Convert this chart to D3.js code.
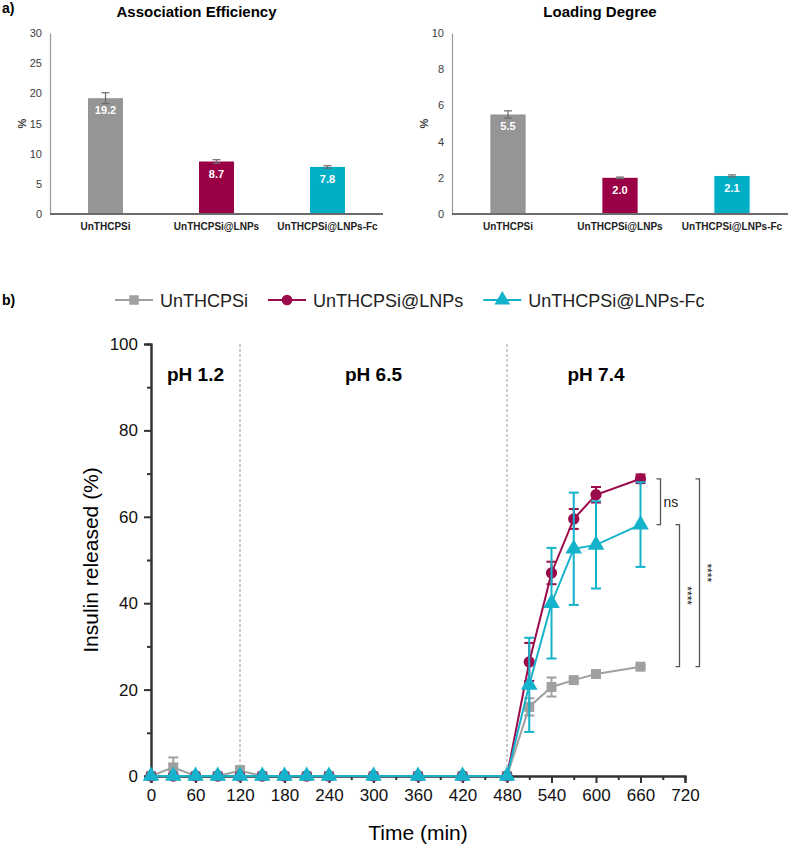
<!DOCTYPE html>
<html>
<head>
<meta charset="utf-8">
<script src="https://cdn.jsdelivr.net/npm/d3@7"></script>
<style>
  body { margin: 0; background: #fff; }
  svg { font-family: Arial, 'Liberation Sans', sans-serif; display: block; }
</style>
</head>
<body>
<div id="app"></div>
<script>
const width = 789
const height = 845

// ---- panel a) data
const categories = ['UnTHCPSi', 'UnTHCPSi@LNPs', 'UnTHCPSi@LNPs-Fc']
const colors = ['#959595', '#990046', '#00afc6']
const assocEff = [19.2, 8.7, 7.8]
const assocErr = [0.9, 0.3, 0.2]
const loadDeg = [5.5, 2.0, 2.1]
const loadErr = [0.2, 0.04, 0.06]

// ---- panel b) data (insulin released, %)
const times  = [0, 30, 60, 90, 120, 150, 180, 210, 240, 300, 360, 420, 480, 510, 540, 570, 600, 660]
const relSi  = [0, 2.0, 0, 0, 1.2, 0, 0, 0, 0, 0, 0, 0, 0, 16.0, 20.6, 22.2, 23.6, 25.3]
const errSi  = [0, 2.3, 0, 0, 1.1, 0, 0, 0, 0, 0, 0, 0, 0, 2.0, 2.2, 0.5, 0.5, 0.4]
const relLNP = [0, 0, 0, 0, 0, 0, 0, 0, 0, 0, 0, 0, 0, 26.4, 47.0, 59.5, 65.1, 68.8]
const errLNP = [0, 0, 0, 0, 0, 0, 0, 0, 0, 0, 0, 0, 0, 4.4, 2.6, 2.3, 1.8, 1.0]
const relFc  = [0, 0, 0, 0, 0, 0, 0, 0, 0, 0, 0, 0, 0, 21.1, 40.0, 52.6, 53.5, 58.2]
const errFc  = [0, 0, 0, 0, 0, 0, 0, 0, 0, 0, 0, 0, 0, 10.9, 12.8, 13.0, 10.1, 9.8]
const phaseEdges = [0, 120, 480, 720]
const phaseLabels = ['pH 1.2', 'pH 6.5', 'pH 7.4']
const xTicks = [0, 60, 120, 180, 240, 300, 360, 420, 480, 540, 600, 660, 720]
const yTicks = [0, 20, 40, 60, 80, 100]

const svg = d3.select('#app')
  .append('svg')
  .attr('width', width)
  .attr('height', height)

// panel letters
svg.append('text').attr('x', 2).attr('y', 13)
  .style('font-size', '14px').style('font-weight', 'bold').text('a)')
svg.append('text').attr('x', 2).attr('y', 305)
  .style('font-size', '14px').style('font-weight', 'bold').text('b)')

// ---------- bar charts ----------
const barChart = (left, right, title, values, errs, maxY, step) => {
  const g = svg.append('g')
  const x = d3.scaleBand()
    .domain(categories)
    .range([left, right])
    .paddingInner(0.685)
    .paddingOuter(0.3425)
  const y = d3.scaleLinear().domain([0, maxY]).range([214, 33])

  g.append('text')
    .attr('x', (left + right) / 2 - 20)
    .attr('y', 17)
    .attr('text-anchor', 'middle')
    .style('font-size', '15px').style('font-weight', 'bold')
    .text(title)

  const axisY = d3.axisLeft(y).tickValues(d3.range(0, maxY + 0.01, step)).tickSize(0).tickPadding(8)
  g.append('g')
    .attr('transform', `translate(${left}, 0)`)
    .call(axisY)
    .call(a => a.select('.domain').attr('stroke', '#9a9a9a').attr('stroke-width', 1.2))
    .call(a => a.selectAll('text').style('font-size', '11px').attr('fill', '#404040').style('font-family', 'Arial, Liberation Sans, sans-serif'))

  g.append('text')
    .attr('transform', `translate(${left - 24}, ${(33 + 214) / 2}) rotate(-90)`)
    .attr('text-anchor', 'middle')
    .style('font-size', '11px').style('font-weight', 'bold').attr('fill', '#333')
    .text('%')

  g.selectAll('rect')
    .data(values)
    .enter()
    .append('rect')
    .attr('x', (d, i) => x(categories[i]))
    .attr('y', d => y(d))
    .attr('width', x.bandwidth())
    .attr('height', d => y(0) - y(d))
    .attr('fill', (d, i) => colors[i])

  // error bars
  values.forEach((v, i) => {
    const cx = x(categories[i]) + x.bandwidth() / 2
    g.append('line').attr('x1', cx).attr('x2', cx)
      .attr('y1', y(v - errs[i])).attr('y2', y(v + errs[i]))
      .attr('stroke', '#6b6b6b').attr('stroke-width', 1.2)
    ;[v - errs[i], v + errs[i]].forEach(e => {
      g.append('line').attr('x1', cx - 4).attr('x2', cx + 4)
        .attr('y1', y(e)).attr('y2', y(e))
        .attr('stroke', '#6b6b6b').attr('stroke-width', 1.2)
    })
  })

  g.selectAll('.val')
    .data(values)
    .enter()
    .append('text')
    .attr('class', 'val')
    .attr('x', (d, i) => x(categories[i]) + x.bandwidth() / 2)
    .attr('y', d => y(d) + 16)
    .attr('text-anchor', 'middle')
    .attr('fill', '#fff')
    .style('font-size', '11px').style('font-weight', 'bold')
    .text(d => d.toFixed(1))

  g.append('line')
    .attr('x1', left).attr('x2', right)
    .attr('y1', y(0)).attr('y2', y(0))
    .attr('stroke', '#6b6b6b').attr('stroke-width', 2)

  g.selectAll('.cat')
    .data(categories)
    .enter()
    .append('text')
    .attr('class', 'cat')
    .attr('x', d => x(d) + x.bandwidth() / 2)
    .attr('y', 230)
    .attr('text-anchor', 'middle')
    .style('font-size', '10px').style('font-weight', 'bold').attr('fill', '#222')
    .text(d => d)
}

barChart(50, 383, 'Association Efficiency', assocEff, assocErr, 30, 5)
barChart(452, 788, 'Loading Degree', loadDeg, loadErr, 10, 2)

// ---------- release profile ----------
const x = d3.scaleLinear().domain([0, 720]).range([151, 685])
const y = d3.scaleLinear().domain([0, 100]).range([776, 344])
const axisColor = '#333'

// phase separators
phaseEdges.slice(1, 3).forEach(t => {
  svg.append('line')
    .attr('x1', x(t)).attr('x2', x(t))
    .attr('y1', y(100)).attr('y2', y(0))
    .attr('stroke', '#999').attr('stroke-width', 1)
    .attr('stroke-dasharray', '3,2')
})
phaseLabels.forEach((lab, i) => {
  svg.append('text')
    .attr('x', x((phaseEdges[i] + phaseEdges[i + 1]) / 2))
    .attr('y', y(93) + 7)
    .attr('text-anchor', 'middle')
    .style('font-size', '19px').style('font-weight', 'bold')
    .text(lab)
})

// axes: minor ticks first, then major ticks with labels
const minorX = d3.axisBottom(x).tickValues(d3.range(30, 721, 60)).tickSize(4).tickFormat('')
const majorX = d3.axisBottom(x).tickValues(xTicks).tickSize(7).tickPadding(6)
const minorY = d3.axisLeft(y).tickValues(d3.range(10, 100, 20)).tickSize(4).tickFormat('')
const majorY = d3.axisLeft(y).tickValues(yTicks).tickSize(7).tickPadding(6)

const styleAxis = a => {
  a.select('.domain').attr('stroke', axisColor).attr('stroke-width', 2)
  a.selectAll('line').attr('stroke', axisColor).attr('stroke-width', 2)
  a.selectAll('text').style('font-size', '17px').attr('fill', '#111').style('font-family', 'Arial, Liberation Sans, sans-serif')
}
svg.append('g').attr('transform', `translate(0, ${y(0)})`).call(minorX).call(styleAxis)
svg.append('g').attr('transform', `translate(0, ${y(0)})`).call(majorX).call(styleAxis)
svg.append('g').attr('transform', `translate(${x(0)}, 0)`).call(minorY).call(styleAxis)
svg.append('g').attr('transform', `translate(${x(0)}, 0)`).call(majorY).call(styleAxis)

svg.append('text')
  .attr('x', (x(0) + x(720)) / 2)
  .attr('y', 840)
  .attr('text-anchor', 'middle')
  .style('font-size', '21px')
  .text('Time (min)')
svg.append('text')
  .attr('transform', `translate(98, ${(y(0) + y(100)) / 2}) rotate(-90)`)
  .attr('text-anchor', 'middle')
  .style('font-size', '21px')
  .text('Insulin released (%)')

const series = [
  { name: categories[0], vals: relSi, errs: errSi, color: '#a0a0a0', sym: d3.symbolSquare, size: 100 },
  { name: categories[1], vals: relLNP, errs: errLNP, color: '#9b0a4b', sym: d3.symbolCircle, size: 100 },
  { name: categories[2], vals: relFc, errs: errFc, color: '#14b2cb', sym: d3.symbolTriangle, size: 120 }
]

const line = d3.line().x(d => x(d[0])).y(d => y(d[1]))

series.forEach(s => {
  const g = svg.append('g')
  const pts = times.map((t, i) => [t, s.vals[i], s.errs[i]])

  g.append('path')
    .datum(pts)
    .attr('d', line)
    .attr('fill', 'none')
    .attr('stroke', s.color)
    .attr('stroke-width', 2)

  pts.filter(d => d[2] > 0).forEach(d => {
    const cx = x(d[0])
    g.append('line').attr('x1', cx).attr('x2', cx)
      .attr('y1', y(d[1] - d[2])).attr('y2', y(d[1] + d[2]))
      .attr('stroke', s.color).attr('stroke-width', 2)
    ;[d[1] - d[2], d[1] + d[2]].forEach(e => {
      g.append('line').attr('x1', cx - 5).attr('x2', cx + 5)
        .attr('y1', y(e)).attr('y2', y(e))
        .attr('stroke', s.color).attr('stroke-width', 2)
    })
  })

  g.selectAll('path.mk')
    .data(pts)
    .enter()
    .append('path')
    .attr('class', 'mk')
    .attr('transform', d => `translate(${x(d[0])}, ${y(d[1])})`)
    .attr('d', d3.symbol().type(s.sym).size(s.size))
    .attr('fill', s.color)
})

// significance brackets at the last time point
const last = times.length - 1
const bracket = (v1, v2, bx, label, rotated) => {
  const y1 = y(v1), y2 = y(v2)
  svg.append('path')
    .attr('d', `M${bx - 4},${y1}H${bx}V${y2}H${bx - 4}`)
    .attr('fill', 'none')
    .attr('stroke', '#555')
    .attr('stroke-width', 1.3)
  if (rotated) {
    svg.append('text')
      .attr('transform', `translate(${bx + 3}, ${(y1 + y2) / 2}) rotate(90)`)
      .attr('text-anchor', 'middle')
      .style('font-size', '12px')
      .attr('fill', '#222')
      .text(label)
  } else {
    svg.append('text')
      .attr('x', bx + 3)
      .attr('y', (y1 + y2) / 2 + 5)
      .style('font-size', '14px')
      .attr('fill', '#222')
      .text(label)
  }
}
bracket(relLNP[last], relFc[last], x(660) + 20, 'ns', false)
bracket(relFc[last], relSi[last], x(660) + 39, '****', true)
bracket(relLNP[last], relSi[last], x(660) + 59, '****', true)

// legend
const legend = svg.append('g').attr('transform', 'translate(115, 300)')
let lx = 0
series.forEach(s => {
  legend.append('line').attr('x1', lx).attr('x2', lx + 38)
    .attr('y1', 0).attr('y2', 0)
    .attr('stroke', s.color).attr('stroke-width', 2)
  legend.append('path')
    .attr('transform', `translate(${lx + 19}, 0)`)
    .attr('d', d3.symbol().type(s.sym).size(s.size * 0.9))
    .attr('fill', s.color)
  const t = legend.append('text')
    .attr('x', lx + 45)
    .attr('y', 6.5)
    .style('font-size', '18px')
    .attr('fill', '#222')
    .text(s.name)
  lx += 45 + t.node().getComputedTextLength() + 20
})
</script>
</body>
</html>
